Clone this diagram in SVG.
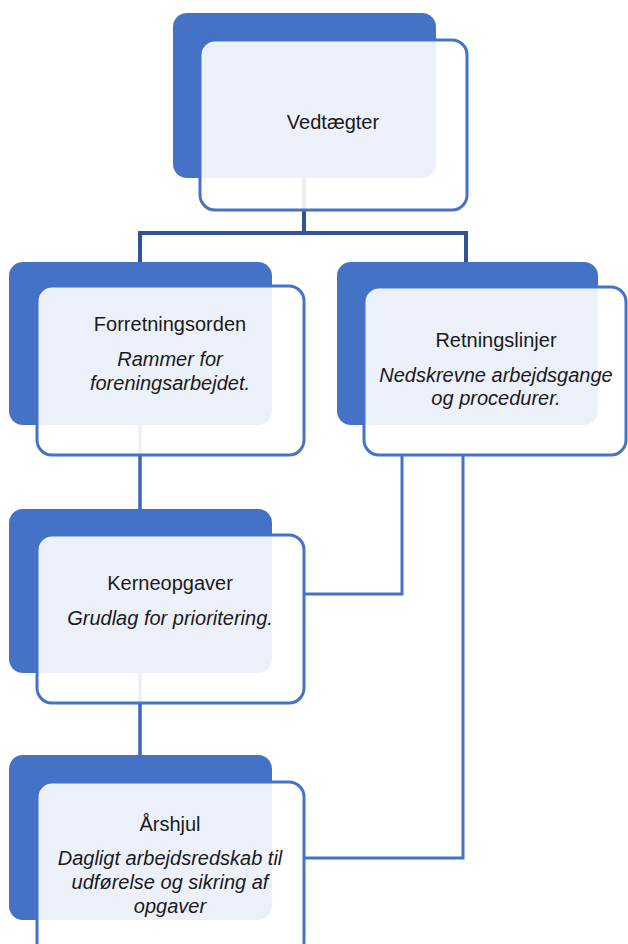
<svg xmlns="http://www.w3.org/2000/svg" width="628" height="944" viewBox="0 0 628 944">
<style>
.back{fill:#4472C4}
.front{fill:#FFFFFF;fill-opacity:0.9;stroke:#4472C4;stroke-width:3}
.t{font-family:"Liberation Sans",Arial,sans-serif;font-size:20px;fill:#1A1A1A;text-anchor:middle}
.i{font-style:italic}
.c1{fill:none;stroke:#2F5597;stroke-width:4}
.c2{fill:none;stroke:#3B66B8;stroke-width:3.5}
.c3{fill:none;stroke:#4472C4;stroke-width:3}
</style>
<rect width="628" height="944" fill="#FFFFFF"/>
<g id="connectors">
<path class="c1" d="M304,178 V233 M140,233 H466 M140,231 V262 M466,231 V262"/>
<path class="c2" d="M140,425 V510 M140,673 V756"/>
<path class="c3" d="M402,455 V594 H304 M463,455 V858 H304"/>
</g>
<g id="vedtaegter">
<rect class="back" x="173" y="13" width="263" height="165" rx="14"/>
<rect class="front" x="200" y="40" width="267" height="170" rx="15"/>
<text class="t" x="333" y="129">Vedtægter</text>
</g>
<g id="forretningsorden">
<rect class="back" x="9" y="262" width="263" height="163" rx="14"/>
<rect class="front" x="37" y="286" width="267" height="169" rx="15"/>
<text class="t" x="170" y="331">Forretningsorden</text>
<text class="t i" x="170" y="366">Rammer for</text>
<text class="t i" x="170" y="390">foreningsarbejdet.</text>
</g>
<g id="retningslinjer">
<rect class="back" x="337" y="262" width="261" height="163" rx="14"/>
<rect class="front" x="364" y="287" width="262" height="168" rx="15"/>
<text class="t" x="496" y="347">Retningslinjer</text>
<text class="t i" x="496" y="382">Nedskrevne arbejdsgange</text>
<text class="t i" x="496" y="405">og procedurer.</text>
</g>
<g id="kerneopgaver">
<rect class="back" x="9" y="509" width="263" height="164" rx="14"/>
<rect class="front" x="37" y="535" width="267" height="168" rx="15"/>
<text class="t" x="170" y="590">Kerneopgaver</text>
<text class="t i" x="170" y="625">Grudlag for prioritering.</text>
</g>
<g id="aarshjul">
<rect class="back" x="9" y="755" width="263" height="165" rx="14"/>
<rect class="front" x="37" y="782" width="267" height="175" rx="15"/>
<text class="t" x="170" y="831">Årshjul</text>
<text class="t i" x="170" y="865">Dagligt arbejdsredskab til</text>
<text class="t i" x="170" y="889">udførelse og sikring af</text>
<text class="t i" x="170" y="913">opgaver</text>
</g>
</svg>
